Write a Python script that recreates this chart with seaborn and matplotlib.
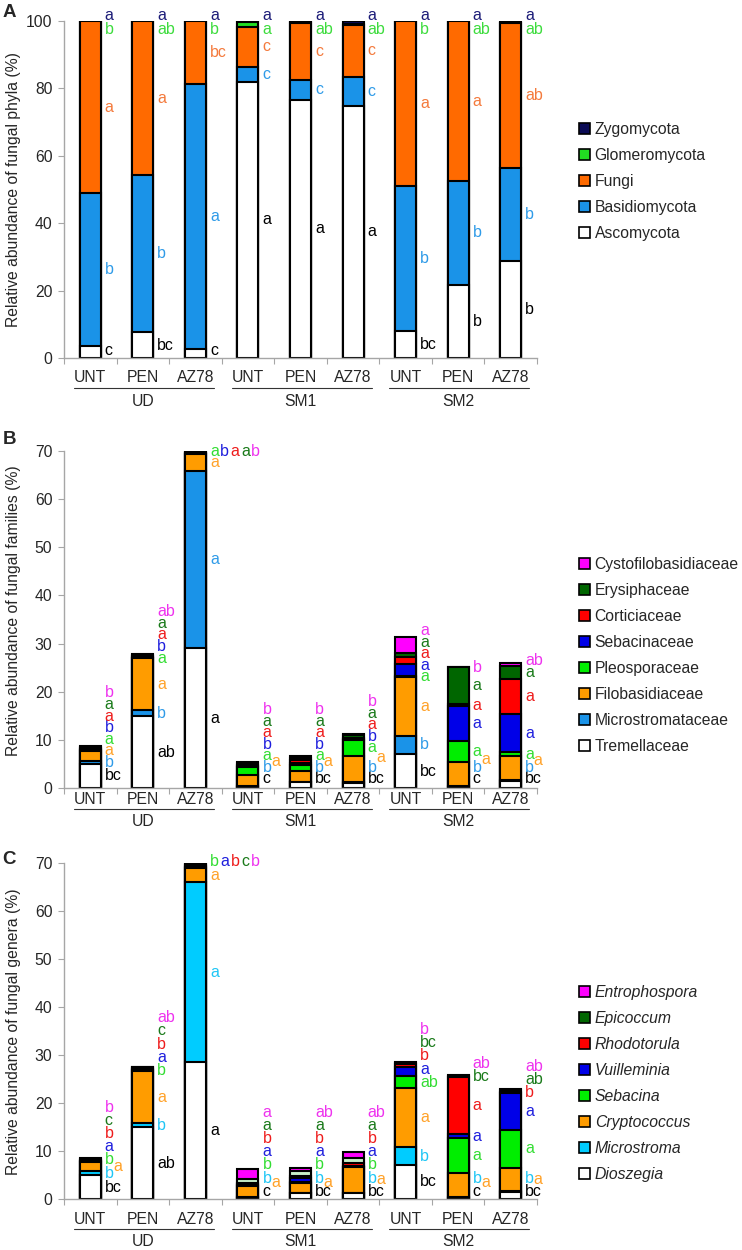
import numpy as np
import matplotlib
matplotlib.use("Agg")
import matplotlib.pyplot as plt
import matplotlib.transforms as mtransforms
from matplotlib.patches import Patch
from matplotlib.lines import Line2D
import seaborn as sns

# ---------------- data ----------------
soils = ['UD', 'SM1', 'SM2']
treatments = ['UNT', 'PEN', 'AZ78']
bar_ids = [f'{s} {t}' for s in soils for t in treatments]
bar_labels = treatments * 3

# A: phyla, stacked bottom -> top
phyla = ['Ascomycota', 'Basidiomycota', 'Fungi', 'Glomeromycota', 'Zygomycota']
ascomycota = [3.7, 7.7, 2.8, 82.0, 76.6, 74.9, 8.1, 21.7, 28.8]
basidiomycota = [45.2, 46.5, 78.5, 4.3, 5.9, 8.6, 43.0, 30.9, 27.7]
fungi = [51.0, 45.7, 18.6, 12.0, 16.8, 15.3, 48.8, 47.3, 42.8]
glomeromycota = [0.05, 0.05, 0.05, 1.3, 0.3, 0.2, 0.05, 0.05, 0.1]
zygomycota = [0.05, 0.05, 0.05, 0.4, 0.4, 1.0, 0.05, 0.05, 0.6]

ascomycota_sig = ['c', 'bc', 'c', 'a', 'a', 'a', 'bc', 'b', 'b']
basidiomycota_sig = ['b', 'b', 'a', 'c', 'c', 'c', 'b', 'b', 'b']
fungi_sig = ['a', 'a', 'bc', 'c', 'c', 'c', 'a', 'a', 'ab']
glomeromycota_sig = ['b', 'ab', 'b', 'a', 'ab', 'ab', 'b', 'ab', 'ab']
zygomycota_sig = ['a', 'a', 'a', 'a', 'a', 'a', 'a', 'a', 'a']

# B: families, stacked bottom -> top
families = ['Tremellaceae', 'Microstromataceae', 'Filobasidiaceae', 'Pleosporaceae',
            'Sebacinaceae', 'Corticiaceae', 'Erysiphaceae', 'Cystofilobasidiaceae']
tremellaceae = [5.0, 14.9, 29.0, 0.3, 1.2, 1.1, 7.0, 0.3, 1.4]
microstromataceae = [0.7, 1.2, 36.8, 0.1, 0.1, 0.15, 3.9, 0.15, 0.2]
filobasidiaceae = [2.0, 10.8, 3.5, 2.2, 2.3, 5.4, 12.1, 5.0, 5.0]
pleosporaceae = [0.2, 0.2, 0.12, 1.8, 1.1, 3.4, 0.2, 4.3, 0.8]
sebacinaceae = [0.2, 0.15, 0.12, 0.2, 0.4, 0.2, 2.6, 7.2, 8.0]
corticiaceae = [0.2, 0.15, 0.12, 0.2, 0.7, 0.2, 1.5, 0.5, 7.3]
erysiphaceae = [0.2, 0.2, 0.12, 0.4, 0.5, 0.5, 0.8, 7.6, 2.6]
cystofilobasidiaceae = [0.2, 0.3, 0.12, 0.3, 0.4, 0.2, 3.2, 0.1, 0.7]

tremellaceae_sig = ['bc', 'ab', 'a', 'c', 'bc', 'bc', 'bc', 'c', 'bc']
microstromataceae_sig = ['b', 'b', 'a', 'b', 'b', 'b', 'b', 'b', 'b']
filobasidiaceae_sig = ['a', 'a', 'a', 'a', 'a', 'a', 'a', 'a', 'a']
pleosporaceae_sig = ['a', 'a', 'a', 'a', 'a', 'a', 'a', 'a', 'a']
sebacinaceae_sig = ['b', 'b', 'b', 'b', 'b', 'b', 'a', 'a', 'a']
corticiaceae_sig = ['a', 'a', 'a', 'a', 'a', 'a', 'a', 'a', 'a']
erysiphaceae_sig = ['a', 'a', 'a', 'a', 'a', 'a', 'a', 'a', 'a']
cystofilobasidiaceae_sig = ['b', 'ab', 'b', 'b', 'b', 'b', 'a', 'b', 'ab']

# C: genera, stacked bottom -> top
genera = ['Dioszegia', 'Microstroma', 'Cryptococcus', 'Sebacina',
          'Vuilleminia', 'Rhodotorula', 'Epicoccum', 'Entrophospora']
dioszegia = [5.0, 14.9, 28.5, 0.3, 1.2, 1.2, 7.1, 0.3, 1.5]
microstroma = [0.75, 0.9, 37.5, 0.2, 0.1, 0.15, 3.65, 0.15, 0.2]
cryptococcus = [1.95, 10.9, 3.0, 2.2, 2.0, 5.25, 12.3, 4.9, 4.8]
sebacina = [0.15, 0.15, 0.2, 0.2, 0.25, 0.1, 2.5, 7.3, 7.9]
vuilleminia = [0.15, 0.15, 0.2, 0.2, 0.9, 0.1, 1.9, 0.9, 7.6]
rhodotorula = [0.2, 0.2, 0.2, 0.2, 0.25, 0.6, 0.6, 11.8, 0.2]
epicoccum = [0.2, 0.2, 0.2, 0.9, 1.1, 1.2, 0.25, 0.25, 0.5]
entrophospora = [0.2, 0.2, 0.2, 2.1, 0.6, 1.2, 0.25, 0.2, 0.15]

dioszegia_sig = ['bc', 'ab', 'a', 'c', 'bc', 'bc', 'bc', 'c', 'bc']
microstroma_sig = ['b', 'b', 'a', 'b', 'b', 'b', 'b', 'b', 'b']
cryptococcus_sig = ['a', 'a', 'a', 'a', 'a', 'a', 'a', 'a', 'a']
sebacina_sig = ['b', 'b', 'b', 'b', 'b', 'b', 'ab', 'a', 'a']
vuilleminia_sig = ['a', 'a', 'a', 'a', 'a', 'a', 'a', 'a', 'a']
rhodotorula_sig = ['b', 'b', 'b', 'b', 'b', 'b', 'b', 'a', 'b']
epicoccum_sig = ['c', 'c', 'c', 'a', 'a', 'a', 'bc', 'bc', 'ab']
entrophospora_sig = ['b', 'ab', 'b', 'a', 'ab', 'ab', 'b', 'ab', 'ab']

# ---------------- style ----------------
W, H = 742, 1250
AX_LEFT, AX_RIGHT = 64, 537
FS = 11.3
LFS = 11.5
GREY = '#a6a6a6'

epicoccum_colors = ['#006600', '#006600', '#006600', '#c8f0c8', '#c8f0c8', '#c8f0c8',
                    '#006600', '#006600', '#006600']

panels = [
    dict(tag='A', top=21, bottom=358, ymax=100, yticks=range(0, 101, 20),
         ylabel='Relative abundance of fungal phyla (%)', ylabel_y=190, tag_y=12.5,
         series=[ascomycota, basidiomycota, fungi, glomeromycota, zygomycota],
         sig=[ascomycota_sig, basidiomycota_sig, fungi_sig, glomeromycota_sig, zygomycota_sig],
         names=phyla, italic=False, legend_y=128,
         colors=['white', '#1a93e8', '#ff6a00', '#22dd22', '#0b0b55'],
         text_colors=['black', '#2f9be8', '#f47a3c', '#3ddc3d', '#1c1c78'],
         letters=dict(gap=4.1, ymin=2.2, mode='clamp', top=101.6, side=[], side_mode=None),
         lab_off=20, line_off=30, grp_off=44),
    dict(tag='B', top=451, bottom=788, ymax=70, yticks=range(0, 71, 10),
         ylabel='Relative abundance of fungal families (%)', ylabel_y=611, tag_y=440,
         series=[tremellaceae, microstromataceae, filobasidiaceae, pleosporaceae,
                 sebacinaceae, corticiaceae, erysiphaceae, cystofilobasidiaceae],
         sig=[tremellaceae_sig, microstromataceae_sig, filobasidiaceae_sig, pleosporaceae_sig,
              sebacinaceae_sig, corticiaceae_sig, erysiphaceae_sig, cystofilobasidiaceae_sig],
         names=families, italic=False, legend_y=563,
         colors=['white', '#1a93e8', '#ff9c00', '#00ee00', '#0000e8', '#ff0000', '#006600', '#ff00ff'],
         text_colors=['black', '#2f9be8', '#ffa229', '#33dd33', '#1f1fdd', '#ee1c1c', '#1a7a1a', '#ee33ee'],
         letters=dict(gap=2.4, ymin=1.9, mode='row', top=70.7, side=[3, 4, 5, 7, 8], side_mode='between'),
         lab_off=12, line_off=21, grp_off=34),
    dict(tag='C', top=863, bottom=1199, ymax=70, yticks=range(0, 71, 10),
         ylabel='Relative abundance of fungal genera (%)', ylabel_y=1032, tag_y=860,
         series=[dioszegia, microstroma, cryptococcus, sebacina,
                 vuilleminia, rhodotorula, epicoccum, entrophospora],
         sig=[dioszegia_sig, microstroma_sig, cryptococcus_sig, sebacina_sig,
              vuilleminia_sig, rhodotorula_sig, epicoccum_sig, entrophospora_sig],
         names=genera, italic=True, legend_y=991,
         colors=['white', '#00ccff', '#ff9c00', '#00ee00', '#0000e8', '#ff0000', epicoccum_colors, '#ff00ff'],
         legend_colors=['white', '#00ccff', '#ff9c00', '#00ee00', '#0000e8', '#ff0000', '#006600', '#ff00ff'],
         text_colors=['black', '#1fc6f5', '#ffa229', '#33dd33', '#1f1fdd', '#ee1c1c', '#1a7a1a', '#ee33ee'],
         letters=dict(gap=2.75, ymin=1.6, mode='row', top=70.7, side=[0, 3, 4, 5, 7, 8], side_mode='mid'),
         lab_off=20, line_off=30, grp_off=42),
]

sns.set_style('ticks')
plt.rcParams['font.family'] = ['Liberation Sans', 'DejaVu Sans']

fig = plt.figure(figsize=(W / 100, H / 100), dpi=100)


def shifted(trans, dx=0, dy=0):
    return mtransforms.offset_copy(trans, fig=fig, x=dx, y=dy, units='dots')


def draw_bars(ax, p):
    cum = np.cumsum(np.array(p['series']), axis=0)
    # draw from the full stack down so every boundary gets an outline
    for k in range(len(cum) - 1, -1, -1):
        col = p['colors'][k]
        kw = dict(x=bar_ids, y=cum[k], width=0.4, edgecolor='black', linewidth=1.5,
                  saturation=1, errorbar=None, ax=ax)
        if isinstance(col, list):
            sns.barplot(hue=bar_ids, palette=col, legend=False, dodge=False, **kw)
        else:
            sns.barplot(color=col, **kw)


def draw_letters(ax, p):
    r = fig.canvas.get_renderer()
    vals = np.array(p['series'])
    cfg = p['letters']
    gap = cfg['gap']
    for i in range(vals.shape[1]):
        seg = vals[:, i]
        mids = np.cumsum(seg) - seg / 2
        side = 2 if i in cfg['side'] else None
        col = [k for k in range(len(seg)) if k != side]

        # push labels up so they don't overlap
        ys, prev = {}, None
        for k in col:
            y = mids[k] if prev is None else max(mids[k], prev + gap)
            ys[k] = max(y, cfg['ymin'])
            prev = ys[k]
        if cfg['mode'] == 'clamp':
            lim = cfg['top']
            for k in reversed(col):
                ys[k] = min(ys[k], lim)
                lim = ys[k] - gap

        dx, row_y, prev_t, prev_y = 0.0, None, None, None
        for k in col:
            y = ys[k]
            if cfg['mode'] == 'row' and y > cfg['top'] and prev_t is not None:
                if row_y is None:
                    row_y = prev_y
                dx += prev_t.get_window_extent(r).width + 1.5
                y = row_y
            t = ax.text(i + 0.2, y, p['sig'][k][i], color=p['text_colors'][k],
                        transform=shifted(ax.transData, 4 + dx), ha='left', va='center',
                        fontsize=LFS, clip_on=False)
            prev_t, prev_y = t, y

        if side is not None:
            if cfg['side_mode'] == 'between':
                y = (ys[1] + ys[3]) / 2
            else:
                y = max(mids[2], ys[0] + 0.7 * gap)
            ax.text(i + 0.2, y, p['sig'][2][i], color=p['text_colors'][2],
                    transform=shifted(ax.transData, 12.5), ha='left', va='center',
                    fontsize=LFS, clip_on=False)


def draw_xlabels(ax, p):
    r = fig.canvas.get_renderer()
    xt = ax.get_xaxis_transform()
    texts = [ax.text(i, 0, lab, transform=shifted(xt, 0, -p['lab_off']), ha='center',
                     va='center', fontsize=FS, clip_on=False)
             for i, lab in enumerate(bar_labels)]
    y0 = ax.transAxes.transform((0, 0))[1] - p['line_off']
    for g, soil in enumerate(soils):
        e0 = texts[3 * g].get_window_extent(r)
        e1 = texts[3 * g + 2].get_window_extent(r)
        fig.add_artist(Line2D([e0.x0 / W, e1.x1 / W], [y0 / H, y0 / H],
                              transform=fig.transFigure, color='#333333', lw=0.8))
        ax.text(3 * g + 1, 0, soil, transform=shifted(xt, 0, -p['grp_off']), ha='center',
                va='center', fontsize=FS, clip_on=False)


for p in panels:
    ax = fig.add_axes([AX_LEFT / W, 1 - p['bottom'] / H,
                       (AX_RIGHT - AX_LEFT) / W, (p['bottom'] - p['top']) / H])
    draw_bars(ax, p)

    ax.set_xlim(-0.5, 8.5)
    ax.set_ylim(0, p['ymax'])
    ax.set_xlabel('')
    ax.set_ylabel('')
    ax.set_yticks(list(p['yticks']))
    ax.set_xticks(np.arange(-0.5, 9, 1))
    ax.set_xticklabels([])
    sns.despine(ax=ax)
    for s in ['left', 'bottom']:
        ax.spines[s].set_color(GREY)
        ax.spines[s].set_linewidth(1.0)
    ax.tick_params(axis='both', direction='out', length=4.3, width=0.8, color=GREY,
                   labelsize=FS, pad=4)

    draw_letters(ax, p)
    draw_xlabels(ax, p)

    fig.text(13.5 / W, 1 - p['ylabel_y'] / H, p['ylabel'], rotation=90, ha='center',
             va='center', fontsize=FS)
    fig.text(9 / W, 1 - p['tag_y'] / H, p['tag'], ha='center', va='center',
             fontsize=13.5, fontweight='bold')

    leg_cols = p.get('legend_colors', p['colors'])
    handles = [Patch(facecolor=c, edgecolor='black', linewidth=1.2) for c in leg_cols][::-1]
    prop = {'size': FS, 'style': 'italic' if p['italic'] else 'normal'}
    ax.legend(handles, p['names'][::-1], loc='upper left',
              bbox_to_anchor=(579 / W, 1 - (p['legend_y'] - 6) / H),
              bbox_transform=fig.transFigure, frameon=False, borderpad=0, borderaxespad=0,
              handlelength=0.7, handleheight=0.7, handletextpad=0.3, labelspacing=0.7,
              prop=prop)

fig.savefig('out.png', dpi=100)
